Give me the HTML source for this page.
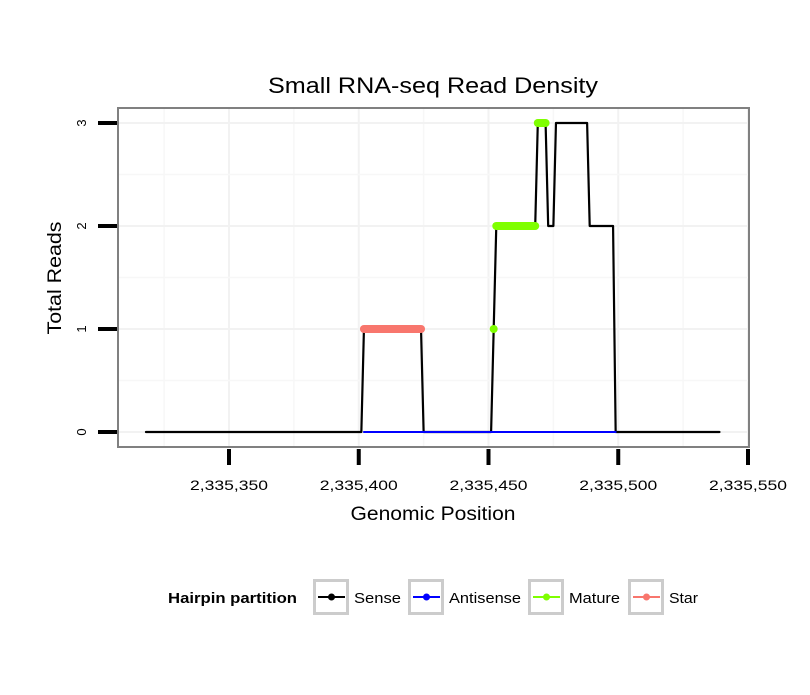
<!DOCTYPE html>
<html><head><meta charset="utf-8"><style>
body{margin:0;background:#fff;font-family:"Liberation Sans",sans-serif}
</style></head><body>
<svg id="chart" width="810" height="690" xmlns="http://www.w3.org/2000/svg" font-family="Liberation Sans, sans-serif">
<rect width="810" height="690" fill="#fff"/>
<text x="433" y="93" font-size="22" text-anchor="middle" textLength="330" lengthAdjust="spacingAndGlyphs">Small RNA-seq Read Density</text>
<g id="grid"></g>
<g id="series"></g>
<rect x="118" y="108" width="631" height="339" fill="none" stroke="#808080" stroke-width="2"/>
<g id="axes"></g>
<text x="433" y="520" font-size="19" text-anchor="middle" textLength="165" lengthAdjust="spacingAndGlyphs">Genomic Position</text>
<text transform="translate(61,278) rotate(-90)" font-size="19" text-anchor="middle" textLength="113" lengthAdjust="spacingAndGlyphs">Total Reads</text>
<g>
<text x="168" y="603" font-size="15" font-weight="bold" textLength="129" lengthAdjust="spacingAndGlyphs">Hairpin partition</text>
<g id="legend"></g>
</g>
</svg>
<script>
const xTicks=[2335350,2335400,2335450,2335500,2335550];
const xTickLabels=["2,335,350","2,335,400","2,335,450","2,335,500","2,335,550"];
const yTicks=[0,1,2,3];
const senseX=[2335318,2335401,2335402,2335424,2335425,2335451,2335452,2335453,2335468,2335469,2335472,2335473,2335475,2335476,2335488,2335489,2335498,2335499,2335539];
const senseY=[0,0,1,1,0,0,1,2,2,3,3,2,2,3,3,2,2,0,0];
const antisenseX=[2335402,2335499];
const antisenseY=[0,0];
const starX=[2335402,2335424];
const starY=[1,1];
const matureSegX=[[2335452,2335452],[2335453,2335468],[2335469,2335472]];
const matureSegY=[[1,1],[2,2],[3,3]];
const legendLabels=["Sense","Antisense","Mature","Star"];
const legendColors=["#000000","#0000ff","#7fff00","#f8766d"];
const legendWidths=[47,72,51,29];

const NS="http://www.w3.org/2000/svg";
const sx=v=>229+(v-2335350)*(519/200);
const sy=v=>432-v*103;
function mk(t,a,p){const e=document.createElementNS(NS,t);for(const k in a)e.setAttribute(k,a[k]);p.appendChild(e);return e;}
const grid=document.getElementById('grid'),series=document.getElementById('series'),axes=document.getElementById('axes'),legend=document.getElementById('legend');
for(let i=0;i<xTicks.length;i++){
  const g=mk('line',{x1:sx(xTicks[i]),x2:sx(xTicks[i]),y1:108,y2:447,stroke:'#f2f2f2','stroke-width':2},grid);
  
  
  const m=mk('line',{x1:sx(xTicks[i]-25),x2:sx(xTicks[i]-25),y1:108,y2:447,stroke:'#f7f7f7','stroke-width':1.5},grid);
  
  
}
for(let i=0;i<yTicks.length;i++){
  const g=mk('line',{x1:118,x2:749,y1:sy(yTicks[i]),y2:sy(yTicks[i]),stroke:'#f2f2f2','stroke-width':2},grid);
  
  
  if(i>0){const m=mk('line',{x1:118,x2:749,y1:sy(yTicks[i]-0.5),y2:sy(yTicks[i]-0.5),stroke:'#f7f7f7','stroke-width':1.5},grid);
  
  }
}
for(let i=0;i<xTicks.length;i++){
  const t=mk('line',{x1:sx(xTicks[i]),x2:sx(xTicks[i]),y1:449,y2:465,stroke:'#000','stroke-width':4},axes);
  
  
  const l=mk('text',{x:sx(xTicks[i]),y:490,'font-size':14,'text-anchor':'middle',textLength:78,lengthAdjust:'spacingAndGlyphs'},axes);
  l.textContent=xTickLabels[i];
  
  
}
for(let i=0;i<yTicks.length;i++){
  const t=mk('line',{x1:98,x2:117,y1:sy(yTicks[i]),y2:sy(yTicks[i]),stroke:'#000','stroke-width':4},axes);
  
  
  const l=mk('text',{transform:`translate(86,${sy(yTicks[i])}) rotate(-90)`,'font-size':13,'text-anchor':'middle'},axes);
  l.textContent=String(yTicks[i]);
  
  
}
function poly(xs,ys,color,w,name){
  const p=mk('polyline',{points:xs.map((x,i)=>sx(x)+','+sy(ys[i])).join(' '),fill:'none',stroke:color,'stroke-width':w,'stroke-linecap':'round','stroke-linejoin':'round'},series);
  
  
}
poly(senseX,senseY,'#000',2.2,'sense-line');
poly(antisenseX,antisenseY,'#0000ff',2,'antisense-line');
poly(starX,starY,'#f8766d',8,'star-segment');
for(let i=0;i<matureSegX.length;i++) poly(matureSegX[i],matureSegY[i],'#7fff00',8,'mature-segment');
const lx=[313,408,528,628];
for(let i=0;i<legendLabels.length;i++){
  const x=lx[i];
  const b=mk('rect',{x:x+1.5,y:580.5,width:33,height:33,fill:'#fff',stroke:'#cccccc','stroke-width':3},legend);
  
  
  mk('line',{x1:x+5,x2:x+32,y1:597,y2:597,stroke:legendColors[i],'stroke-width':2},legend);
  mk('circle',{cx:x+18.5,cy:597,r:3.5,fill:legendColors[i]},legend);
  const t=mk('text',{x:x+41,y:603,'font-size':15,textLength:legendWidths[i],lengthAdjust:'spacingAndGlyphs'},legend);
  t.textContent=legendLabels[i];
  
  
}
</script>
</body></html>
